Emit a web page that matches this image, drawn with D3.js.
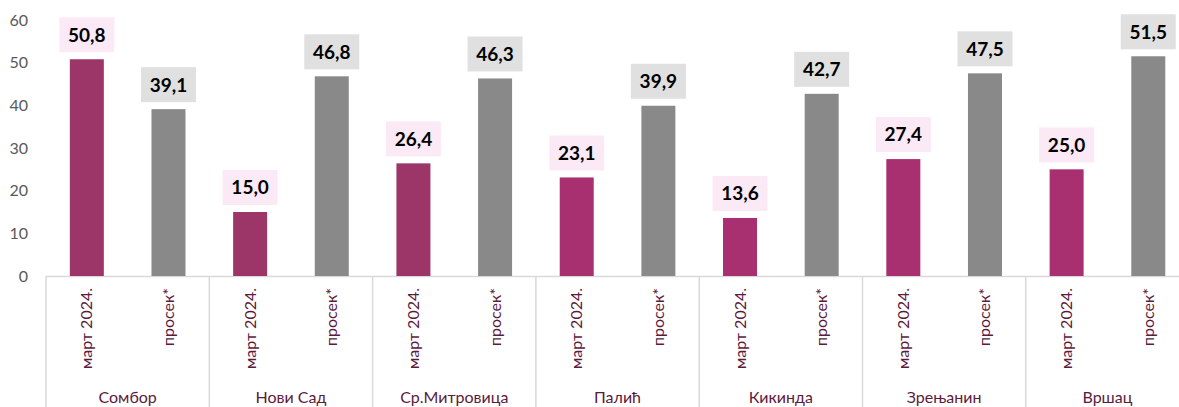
<!DOCTYPE html>
<html>
<head>
<meta charset="utf-8">
<script src="https://cdn.jsdelivr.net/npm/d3@7/dist/d3.min.js"></script>
<style>
  body { margin: 0; background: #fff; }
  svg { display: block; font-family: Lato, "Open Sans", sans-serif; }
</style>
</head>
<body>
<svg id="chart" width="1179" height="407"></svg>
<script>
// data
var cities = ['Сомбор', 'Нови Сад', 'Ср.Митровица', 'Палић', 'Кикинда', 'Зрењанин', 'Вршац'];
var seriesNames = ['март 2024.', 'просек*'];
var marchValues = [50.8, 15.0, 26.4, 23.1, 13.6, 27.4, 25.0];
var averageValues = [39.1, 46.8, 46.3, 39.9, 42.7, 47.5, 51.5];
var yTicks = [0, 10, 20, 30, 40, 50, 60];

var marchColors = ['#9c3568', '#9c3568', '#9c3568', '#a82f70', '#a82f70', '#a82f70', '#a82f70'];
var avgColor = '#898989';

var svg = d3.select('#chart');
var margin = {left: 46, top: 20, bottom: 276};
var groupW = 163.3;

var x = d3.scaleBand()
  .domain(cities)
  .range([margin.left, margin.left + groupW * cities.length])
  .padding(0);

// bars sit at 1/4 and 3/4 of each group
var inner = d3.scalePoint()
  .domain(seriesNames)
  .range([0, x.bandwidth()])
  .padding(0.5);

var y = d3.scaleLinear().domain([0, 60]).range([margin.bottom, margin.top]);

// y axis tick labels
svg.append('g').selectAll('text')
  .data(yTicks)
  .enter().append('text')
  .attr('x', 28)
  .attr('y', function(d) { return y(d); })
  .attr('dy', '0.35em')
  .attr('text-anchor', 'end')
  .attr('fill', '#595959')
  .style('font-size', '16px')
  .text(function(d) { return d; });

// category separators
var seps = d3.range(cities.length + 1).map(function(i) { return margin.left + i * groupW; });
svg.append('g').selectAll('line')
  .data(seps)
  .enter().append('line')
  .attr('x1', function(d) { return d; })
  .attr('x2', function(d) { return d; })
  .attr('y1', y(0))
  .attr('y2', 407)
  .attr('stroke', '#d9d9d9')
  .attr('stroke-width', 1.5);

svg.append('line')
  .attr('x1', margin.left).attr('x2', 1179)
  .attr('y1', y(0) + 0.5).attr('y2', y(0) + 0.5)
  .attr('stroke', '#d9d9d9')
  .attr('stroke-width', 1.5);

var rows = cities.map(function(c, i) {
  return [
    {city: c, series: seriesNames[0], value: marchValues[i], color: marchColors[i], bg: '#fce9f6'},
    {city: c, series: seriesNames[1], value: averageValues[i], color: avgColor, bg: '#e0e0e0'}
  ];
});
var flat = [].concat.apply([], rows);

var bw = 34;
var cx = function(d) { return x(d.city) + inner(d.series); };

// bars
svg.append('g').selectAll('rect')
  .data(flat)
  .enter().append('rect')
  .attr('x', function(d) { return cx(d) - bw / 2; })
  .attr('y', function(d) { return y(d.value); })
  .attr('width', bw)
  .attr('height', function(d) { return y(0) - y(d.value); })
  .attr('fill', function(d) { return d.color; });

// value labels with boxes
var lab = svg.append('g').selectAll('g')
  .data(flat)
  .enter().append('g');

lab.append('rect')
  .attr('x', function(d) { return cx(d) - 27.5; })
  .attr('y', function(d) { return y(d.value) - 42; })
  .attr('width', 55)
  .attr('height', 35)
  .attr('fill', function(d) { return d.bg; });

lab.append('text')
  .attr('x', cx)
  .attr('y', function(d) { return y(d.value) - 24.5; })
  .attr('dy', '0.36em')
  .attr('text-anchor', 'middle')
  .attr('fill', '#000')
  .style('font-size', '19px')
  .style('font-weight', 'bold')
  .text(function(d) { return d.value.toFixed(1).replace('.', ','); });

// rotated series labels
svg.append('g').selectAll('text')
  .data(flat)
  .enter().append('text')
  .attr('transform', function(d) { return 'translate(' + (cx(d) + 5.5) + ',288) rotate(-90)'; })
  .attr('text-anchor', 'end')
  .attr('fill', '#5c1a3c')
  .style('font-size', '16px')
  .text(function(d) { return d.series; });

// city labels
svg.append('g').selectAll('text')
  .data(cities)
  .enter().append('text')
  .attr('x', function(d) { return x(d) + x.bandwidth() / 2; })
  .attr('y', 403)
  .attr('text-anchor', 'middle')
  .attr('fill', '#5c1a3c')
  .style('font-size', '16px')
  .text(function(d) { return d; });
</script>
</body>
</html>
